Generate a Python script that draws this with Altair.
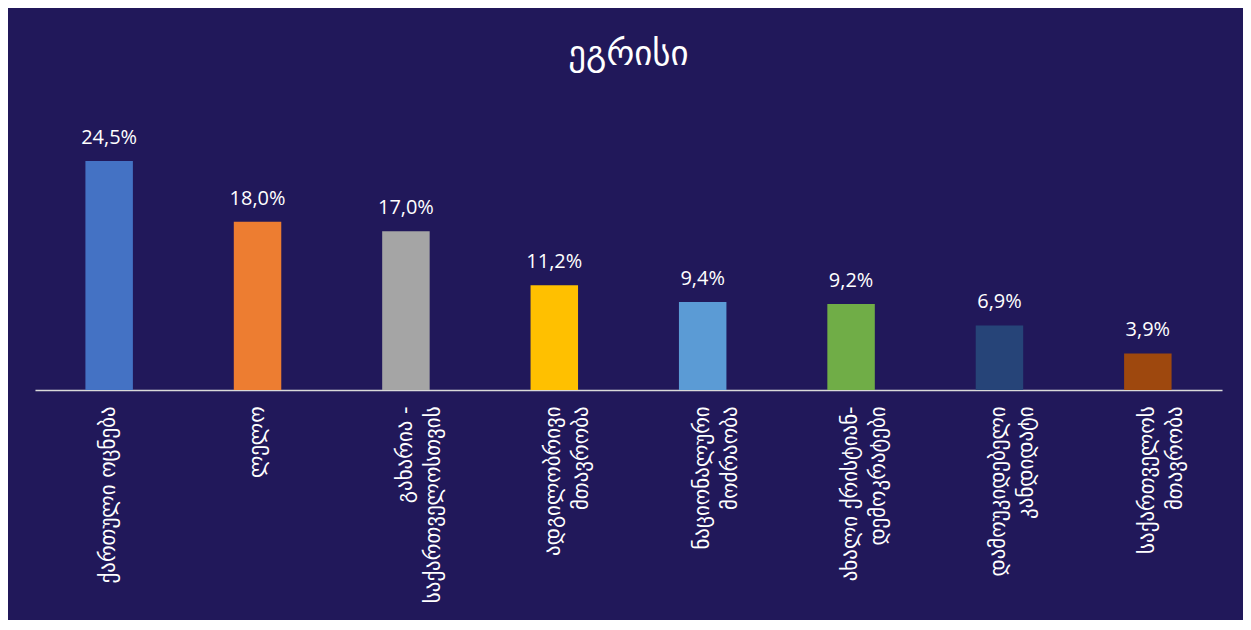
import altair as alt
import pandas as pd

# Data
parties = [
    "ქართული ოცნება",
    "ლელო",
    "გახარია -|საქართველოსთვის",
    "ადგილობრივი|მთავრობა",
    "ნაციონალური|მოძრაობა",
    "ახალი ქრისტიან-|დემოკრატები",
    "დამოუკიდებელი|კანდიდატი",
    "საქართველოს|მთავრობა",
]
values = [24.5, 18.0, 17.0, 11.2, 9.4, 9.2, 6.9, 3.9]
colors = ["#4472C4", "#ED7D31", "#A5A5A5", "#FFC000",
          "#5B9BD5", "#70AD47", "#264478", "#9E480E"]
title_text = "ეგრისი"

df = pd.DataFrame({
    "party": parties,
    "value": values,
    "label": [f"{v:.1f}%".replace(".", ",") for v in values],
})

BG = "#21185A"

base = alt.Chart(df).encode(
    x=alt.X(
        "party:N",
        sort=parties,
        title=None,
        scale=alt.Scale(paddingInner=0.68, paddingOuter=0.34),
        axis=alt.Axis(
            labelExpr="split(datum.label, '|')",
            labelAngle=270,
            labelAlign="right",
            labelBaseline="middle",
            labelPadding=16,
            labelColor="white",
            labelFont="DejaVu Sans",
            labelFontSize=21,
            labelLineHeight=28,
            labelLimit=400,
            labelOverlap=False,
            ticks=False,
            domainColor="#D9D9D9",
            domainWidth=1.5,
        ),
    ),
    y=alt.Y("value:Q", scale=alt.Scale(domain=[0, 27.8], nice=False), axis=None),
)

bars = base.mark_bar().encode(
    color=alt.Color("party:N", scale=alt.Scale(domain=parties, range=colors), legend=None)
)

text = base.mark_text(
    dy=-17, baseline="alphabetic", color="white", fontSize=20, font="Open Sans"
).encode(text="label:N")

chart = (
    alt.layer(bars, text)
    .properties(
        width=1189,
        height=260,
        padding={"left": 27, "top": 122, "right": 21, "bottom": 230},
        autosize="none",
        background=BG,
        title=alt.TitleParams(
            title_text,
            fontSize=35,
            font="DejaVu Sans",
            fontWeight="normal",
            color="white",
            anchor="middle",
            offset=56,
        ),
    )
    .configure_view(stroke=None)
)

chart.save("out.html", embed_options={"renderer": "svg", "actions": False})
